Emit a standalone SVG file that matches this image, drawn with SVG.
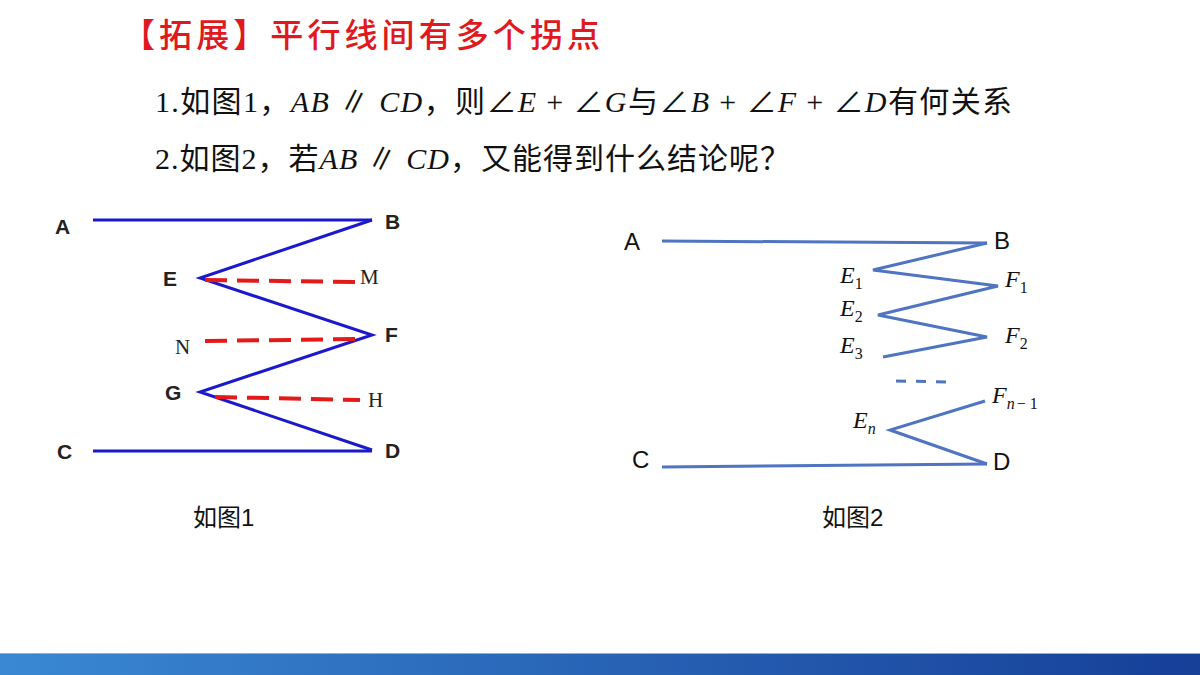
<svg xmlns="http://www.w3.org/2000/svg" width="1200" height="675" viewBox="0 0 1200 675">
<defs>
<linearGradient id="bar" x1="0" x2="1" y1="0" y2="0"><stop offset="0" stop-color="#3a88d4"/><stop offset="1" stop-color="#163f98"/></linearGradient>
<style>
.lbl{font-family:"Liberation Sans",Arial,sans-serif;font-weight:bold;font-size:21px;fill:#222}
.lbl2{font-family:"Liberation Sans",Arial,sans-serif;font-size:24px;fill:#111}
.it{font-family:"Liberation Serif","Times New Roman",serif;font-style:italic;font-size:24px;fill:#111}
.sub{font-family:"Liberation Serif",serif;font-size:16px;font-style:normal}
.subi{font-family:"Liberation Serif",serif;font-size:16px;font-style:italic}
.ser{font-family:"Liberation Serif","Noto Sans CJK SC",serif;font-size:21px;fill:#222}
.cap{font-family:"Liberation Sans","Noto Sans CJK SC",sans-serif;font-size:24px;fill:#111}
.q{font-family:"Liberation Serif","Noto Sans CJK SC",serif;font-size:30px;fill:#111}
</style>
</defs>
<rect width="1200" height="675" fill="#fff"/>
<rect x="0" y="654" width="1200" height="21" fill="url(#bar)"/>
<line x1="0" y1="653.5" x2="1200" y2="653.5" stroke="#8fb0d8" stroke-width="1"/>
<text x="122" y="47" font-family="'Noto Sans CJK SC',sans-serif" font-size="33" fill="#e0191e" font-weight="500" textLength="478" lengthAdjust="spacing">【拓展】平行线间有多个拐点</text>
<text x="155" y="112" class="q" textLength="857" lengthAdjust="spacing">1.如图1，<tspan font-style="italic">AB</tspan> ∥ <tspan font-style="italic">CD</tspan>，则∠<tspan font-style="italic">E</tspan> + ∠<tspan font-style="italic">G</tspan>与∠<tspan font-style="italic">B</tspan> + ∠<tspan font-style="italic">F</tspan> + ∠<tspan font-style="italic">D</tspan>有何关系</text>
<text x="155" y="169" class="q" textLength="635" lengthAdjust="spacing">2.如图2，若<tspan font-style="italic">AB</tspan> ∥ <tspan font-style="italic">CD</tspan>，又能得到什么结论呢？</text>
<g id="connectors">
<g fill="none" stroke="#1a1acc" stroke-width="3">
<line x1="93" y1="220" x2="372" y2="220"/>
<polyline points="372,220 200,278 372,335 200,392 372,450"/>
<line x1="93" y1="451" x2="372" y2="451"/>
</g>
<g fill="none" stroke="#e21a1a" stroke-width="4" stroke-dasharray="22,10">
<line x1="205" y1="280" x2="355" y2="282"/>
<line x1="205" y1="341" x2="360" y2="339"/>
<line x1="215" y1="397" x2="360" y2="400"/>
</g>
<g fill="none" stroke="#4f74c2" stroke-width="3">
<line x1="662" y1="241" x2="987" y2="243"/>
<polyline points="987,243 873,270 998,286 878,315 987,337 883,357"/>
<polyline points="985,401 890,430 987,464"/>
<line x1="662" y1="467" x2="987" y2="464"/>
<line x1="896" y1="381" x2="951" y2="382" stroke-dasharray="10,10"/>
</g>
</g>
<g id="fig1-labels">
<text x="55" y="234" class="lbl">A</text>
<text x="385" y="229" class="lbl">B</text>
<text x="163" y="286" class="lbl">E</text>
<text x="360" y="284" class="ser">M</text>
<text x="175" y="354" class="ser">N</text>
<text x="385" y="342" class="lbl">F</text>
<text x="165" y="400" class="lbl">G</text>
<text x="368" y="407" class="ser">H</text>
<text x="57" y="459" class="lbl">C</text>
<text x="385" y="458" class="lbl">D</text>
<text x="193" y="526" class="cap">如图1</text>
</g>
<g id="fig2-labels">
<text x="624" y="250" class="lbl2">A</text>
<text x="994" y="249" class="lbl2">B</text>
<text x="632" y="468" class="lbl2">C</text>
<text x="993" y="470" class="lbl2">D</text>
<text x="840" y="283" class="it">E<tspan class="sub" dy="6">1</tspan></text>
<text x="840" y="316" class="it">E<tspan class="sub" dy="6">2</tspan></text>
<text x="840" y="353" class="it">E<tspan class="sub" dy="6">3</tspan></text>
<text x="853" y="428" class="it">E<tspan class="subi" dy="6">n</tspan></text>
<text x="1005" y="287" class="it">F<tspan class="sub" dy="6">1</tspan></text>
<text x="1005" y="343" class="it">F<tspan class="sub" dy="6">2</tspan></text>
<text x="992" y="403" class="it">F<tspan class="subi" dy="6">n</tspan><tspan class="sub" dx="2">− 1</tspan></text>
<text x="822" y="526" class="cap">如图2</text>
</g>
</svg>
